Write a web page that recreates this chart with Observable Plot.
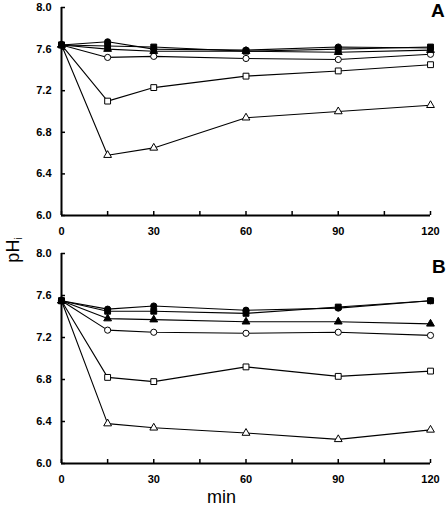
<!DOCTYPE html>
<html><head><meta charset="utf-8">
<script src="https://cdn.jsdelivr.net/npm/d3@7"></script>
<script src="https://cdn.jsdelivr.net/npm/@observablehq/plot@0.6"></script>
<style>
html,body{margin:0;padding:0;background:#fff;}
#chart{position:relative;width:446px;height:508px;font-family:"Liberation Sans",Arial,sans-serif;color:#000;overflow:hidden;}
.panel{position:absolute;left:0;}
.lbl{position:absolute;line-height:1;white-space:nowrap;}
</style></head><body>
<div id="chart"></div>
<script>
// time points (min)
const times = [0, 15, 30, 60, 90, 120];
const xTicks = [0, 30, 60, 90, 120];
const xMinorTicks = [15, 45, 75, 105];
const yTicks = [6.0, 6.4, 6.8, 7.2, 7.6, 8.0];
const seriesKeys = ["openTriangle", "openSquare", "openCircle", "filledTriangle", "filledCircle", "filledSquare"];

// Panel A values (pHi)
const aFilledCircle   = [7.64, 7.67, 7.60, 7.59, 7.62, 7.61];
const aFilledSquare   = [7.64, 7.63, 7.62, 7.58, 7.60, 7.62];
const aFilledTriangle = [7.64, 7.60, 7.58, 7.58, 7.57, 7.59];
const aOpenCircle     = [7.64, 7.52, 7.53, 7.51, 7.50, 7.55];
const aOpenSquare     = [7.64, 7.10, 7.23, 7.34, 7.39, 7.45];
const aOpenTriangle   = [7.64, 6.58, 6.65, 6.94, 7.00, 7.06];

// Panel B values (pHi)
const bFilledCircle   = [7.55, 7.47, 7.50, 7.46, 7.48, 7.55];
const bFilledSquare   = [7.55, 7.45, 7.45, 7.43, 7.49, 7.55];
const bFilledTriangle = [7.55, 7.38, 7.37, 7.35, 7.35, 7.33];
const bOpenCircle     = [7.55, 7.27, 7.25, 7.24, 7.25, 7.22];
const bOpenSquare     = [7.55, 6.82, 6.78, 6.92, 6.83, 6.88];
const bOpenTriangle   = [7.55, 6.38, 6.34, 6.29, 6.23, 6.32];

const panelA = {filledCircle: aFilledCircle, filledSquare: aFilledSquare, filledTriangle: aFilledTriangle,
  openCircle: aOpenCircle, openSquare: aOpenSquare, openTriangle: aOpenTriangle};
const panelB = {filledCircle: bFilledCircle, filledSquare: bFilledSquare, filledTriangle: bFilledTriangle,
  openCircle: bOpenCircle, openSquare: bOpenSquare, openTriangle: bOpenTriangle};

const symbolOf = {filledCircle: "circle", filledSquare: "square", filledTriangle: "triangle",
  openCircle: "circle", openSquare: "square", openTriangle: "triangle"};
const sizeOf = {circle: 3.1, square: 3.3, triangle: 2.9};
const isFilled = k => k.startsWith("filled");

function rowsOf(panel) {
  const rows = [];
  for (const k of seriesKeys) panel[k].forEach((v, i) => rows.push({series: k, t: times[i], v}));
  return rows;
}

const FONT = '"Liberation Sans", Arial, sans-serif';

function makePanel(panel, height, marginBottom) {
  const rows = rowsOf(panel);
  const open = rows.filter(d => !isFilled(d.series));
  const filled = rows.filter(d => isFilled(d.series));
  return Plot.plot({
    width: 446, height,
    marginTop: 7, marginLeft: 61, marginRight: 16, marginBottom,
    x: {domain: [0, 120], label: null},
    y: {domain: [6, 8], label: null},
    r: {type: "identity"},
    style: {fontFamily: FONT, fontSize: "11px", fontWeight: "bold", color: "black", background: "white", overflow: "visible"},
    marks: [
      Plot.axisY(yTicks, {tickSize: -4, tickPadding: 14, tickFormat: d3.format(".1f"), label: null, strokeWidth: 1.5}),
      Plot.axisX(xTicks, {tickSize: -4, tickPadding: 16, tickFormat: d3.format("d"), label: null, strokeWidth: 1.5}),
      Plot.axisX(xMinorTicks, {tickSize: -4, fill: "none", label: null, strokeWidth: 1.5}),
      Plot.ruleX([0], {stroke: "black", strokeWidth: 2}),
      Plot.ruleY([6], {stroke: "black", strokeWidth: 2}),
      Plot.line(rows, {x: "t", y: "v", z: "series", stroke: "black", strokeWidth: 1.1}),
      Plot.dot(open, {x: "t", y: "v", symbol: d => symbolOf[d.series], r: d => sizeOf[symbolOf[d.series]], fill: "white", stroke: "black", strokeWidth: 1}),
      Plot.dot(filled, {x: "t", y: "v", symbol: d => symbolOf[d.series], r: d => sizeOf[symbolOf[d.series]], fill: "black", stroke: "black", strokeWidth: 1})
    ]
  });
}

const chart = document.getElementById("chart");
const svgA = makePanel(panelA, 246, 31);
svgA.classList.add("panel"); svgA.style.top = "0px";
chart.appendChild(svgA);
const svgB = makePanel(panelB, 262, 45);
svgB.classList.add("panel"); svgB.style.top = "246px";
chart.appendChild(svgB);

function label(html, css) {
  const d = document.createElement("div");
  d.className = "lbl";
  d.innerHTML = html;
  Object.assign(d.style, css);
  chart.appendChild(d);
  return d;
}
label("A", {left: "431px", top: "1px", fontSize: "19px", fontWeight: "bold"});
label("B", {left: "432px", top: "257px", fontSize: "19px", fontWeight: "bold"});
label("min", {left: "207px", top: "488px", fontSize: "18px"});
label('pH<sub style="font-size:10px;vertical-align:-3px">i</sub>',
  {left: "14px", top: "250px", fontSize: "18px", transform: "translate(-50%,-50%) rotate(-90deg)", transformOrigin: "center"});
</script>
</body></html>
